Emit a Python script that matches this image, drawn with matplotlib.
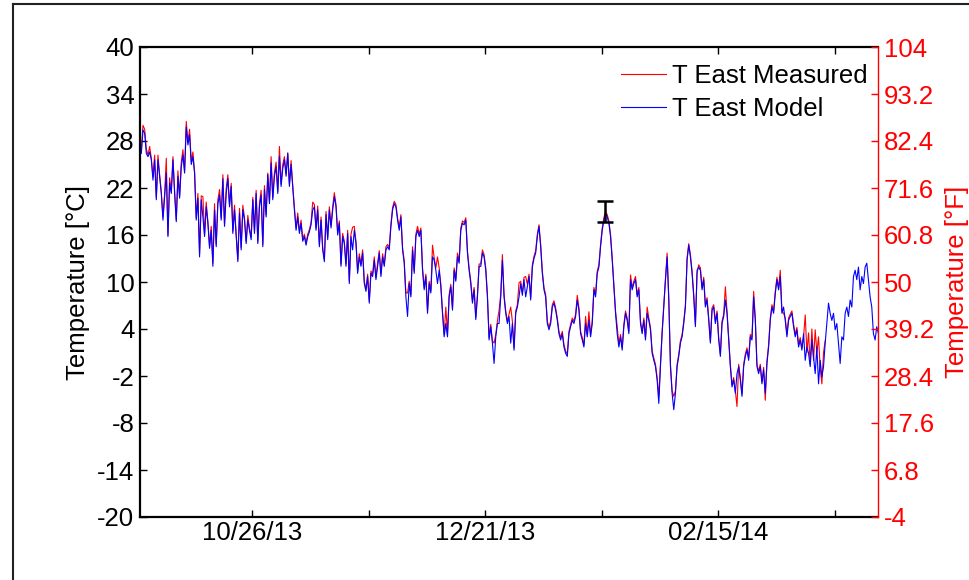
import numpy as np
import pandas as pd
import matplotlib
matplotlib.use("Agg")
import matplotlib.pyplot as plt
import matplotlib.dates as mdates
from matplotlib.lines import Line2D

plt.rcParams['font.family'] = ['Liberation Sans', 'DejaVu Sans']
plt.rcParams['axes.unicode_minus'] = False

# ---------------- data ----------------
series_start = "2013-09-28 12:29"     # first sample
sample_step_min = 576                 # logging interval (minutes)

t_model = [
    23.5, 27.3, 26.4, 29.4, 29.0, 26.4, 26.0, 26.6, 25.6, 23.0,
    25.6, 20.5, 25.6, 23.5, 21.3, 17.9, 20.9, 23.9, 15.8, 22.6,
    21.3, 25.6, 21.3, 17.7, 23.5, 20.7, 24.7, 26.2, 23.9, 29.8,
    27.5, 28.8, 25.0, 26.0, 23.9, 17.9, 20.7, 13.2, 20.5, 18.3,
    15.8, 19.6, 17.5, 14.3, 16.6, 12.0, 19.2, 14.5, 20.0, 21.1,
    17.9, 23.2, 17.1, 21.3, 23.2, 19.6, 22.2, 16.2, 19.2, 15.8,
    12.6, 18.8, 14.1, 19.2, 17.9, 14.9, 17.9, 16.6, 15.4, 20.5,
    16.2, 21.3, 14.9, 19.6, 21.1, 14.5, 21.8, 18.3, 23.7, 20.0,
    25.2, 20.5, 23.5, 24.7, 21.3, 26.0, 22.2, 24.5, 25.6, 23.5,
    26.4, 22.2, 25.0, 22.0, 19.2, 16.6, 18.3, 16.2, 17.5, 15.2,
    15.8, 14.7, 15.8, 16.4, 17.3, 19.2, 19.6, 16.6, 19.2, 14.5,
    17.9, 14.1, 12.6, 18.6, 15.4, 19.2, 16.9, 19.2, 20.9, 19.6,
    16.0, 17.5, 12.0, 15.8, 14.9, 12.0, 16.2, 9.8, 15.8, 14.1,
    16.6, 14.9, 11.1, 13.2, 12.0, 13.7, 9.8, 8.8, 10.7, 7.3,
    11.1, 10.7, 12.8, 10.3, 12.0, 13.7, 10.7, 13.2, 12.0, 14.1,
    14.5, 14.1, 17.1, 19.2, 20.0, 19.6, 17.9, 16.6, 18.3, 14.1,
    12.4, 8.1, 5.6, 9.8, 8.1, 14.1, 11.1, 15.8, 16.6, 15.8,
    16.6, 11.5, 9.0, 10.7, 6.0, 9.8, 8.6, 13.2, 12.8, 11.5,
    9.8, 11.5, 9.4, 6.0, 3.0, 4.7, 3.0, 8.1, 9.4, 6.4,
    11.5, 10.1, 13.2, 12.4, 16.6, 17.5, 17.3, 17.9, 13.7, 11.5,
    9.8, 7.3, 9.0, 5.2, 8.1, 12.0, 12.0, 13.7, 13.2, 11.5,
    8.1, 2.6, 4.3, 2.2, -0.4, 3.0, 4.7, 4.7, 8.1, 12.8,
    8.1, 6.0, 4.7, 5.6, 2.2,
    4.7, 1.3, 6.0, 6.8, 8.1, 9.8, 8.3, 10.3, 8.1, 9.4,
    10.7, 7.7, 11.9, 13.0, 13.7, 15.8, 17.1, 14.5, 11.1, 9.0,
    8.1, 4.7, 3.9, 4.7, 6.8, 7.3, 6.4, 5.1, 3.4, 2.6,
    3.4, 1.7, 0.9, 0.5, 3.4, 4.3, 5.1, 4.7, 5.6, 7.7,
    6.4, 3.4, 2.6, 1.7, 4.7, 3.0, 5.1, 3.0, 4.7, 9.0,
    8.1, 11.1, 11.9, 14.5, 16.6, 17.9, 18.8, 18.3, 17.5, 15.8,
    12.8, 9.4, 6.0, 3.4, 1.7, 3.0, 1.3, 4.3, 6.0, 5.1,
    3.4, 10.3, 9.0, 9.8, 10.3, 8.1, 9.0, 4.7, 3.4, 5.1,
    2.6, 6.0, 5.1, 3.9, 0.9, 0.0, -0.8, -2.5, -5.5, -0.8,
    3.4, 6.8, 10.3, 13.2, 7.7, -0.8, -4.2, -6.3, -4.2, -0.8,
    0.5, 2.2, 3.0, 4.7, 6.8, 12.8, 14.7, 13.2, 11.1, 8.1,
    4.3, 11.5, 11.9, 11.5, 9.0, 10.3, 6.8, 7.7, 5.1, 2.2,
    6.4, 6.8, 4.7, 6.0, 2.6, 0.5, 4.7, 5.6, 7.7, 6.0,
    2.6, -0.8, -3.4, -2.5, -4.2, -1.7, -0.8, -2.5, -4.6, -0.8,
    0.5, 1.3, 0.0, 3.0, 2.6, 8.1, 5.1, -0.8, -1.7, -0.8,
    -3.0, -1.2, -4.2, -0.4, 1.7, 5.1, 6.8, 6.0, 8.5, 10.3,
    9.0, 10.7, 6.0, 6.8, 5.1, 3.0, 5.1, 5.6, 6.0, 4.3,
    3.0, 3.9, 1.7, 2.6, 1.3, 3.4, 0.0, 1.7, 0.9, -0.8,
    2.6, 0.5, -1.7, 1.7, -3.0, 0.0, -2.1, -0.8, 2.2, 4.7,
    7.3, 6.0, 5.1, 6.0, 3.9, 4.7, 2.2, -0.4, 3.0, 2.6,
    6.0, 6.8, 5.6, 7.7, 6.8, 10.7, 11.5, 10.3, 11.9, 9.0,
    10.7, 9.8, 11.9, 12.4, 10.3, 8.1, 6.8, 3.4, 2.6, 4.3,
    3.4,
]

t_measured = [
    25.6, 28.1, 26.9, 30.0, 29.5, 27.0, 26.2, 27.3, 25.8, 23.4,
    26.2, 20.8, 26.2, 23.7, 21.5, 18.3, 21.3, 25.8, 16.0, 23.3,
    21.6, 26.0, 21.6, 17.9, 24.2, 21.0, 25.3, 26.9, 24.2, 30.5,
    27.8, 29.5, 25.4, 26.6, 24.1, 18.2, 21.3, 13.6, 21.0, 20.9,
    16.1, 20.2, 17.7, 14.6, 17.1, 12.4, 20.0, 14.8, 20.5, 21.8,
    18.2, 23.7, 17.4, 21.9, 23.7, 19.9, 22.6, 16.5, 19.8, 16.1,
    12.9, 19.4, 14.4, 19.8, 18.2, 15.2, 18.5, 16.9, 15.7, 20.8,
    16.5, 21.7, 15.2, 20.1, 21.7, 14.8, 22.3, 18.6, 23.9, 20.3,
    26.0, 20.8, 24.0, 25.3, 21.6, 27.3, 22.5, 25.0, 26.0, 23.8,
    26.5, 22.5, 25.5, 22.3, 19.5, 16.9, 18.8, 16.5, 17.9, 15.5,
    16.1, 15.0, 16.1, 16.7, 17.6, 20.2, 19.9, 16.9, 19.7, 14.8,
    18.3, 14.4, 12.9, 19.0, 15.7, 19.6, 17.2, 19.6, 21.4, 19.9,
    16.3, 17.8, 12.3, 16.2, 15.2, 12.3, 16.6, 10.1, 16.1, 17.0,
    17.1, 15.2, 11.4, 13.6, 12.3, 14.1, 10.1, 9.1, 11.0, 7.6,
    11.4, 11.0, 13.2, 10.6, 12.4, 14.0, 11.0, 13.6, 12.3, 14.5,
    14.8, 14.4, 17.4, 19.5, 20.3, 19.9, 18.2, 16.9, 18.6, 14.4,
    12.7, 8.6, 8.6, 10.1, 8.4, 14.5, 11.4, 16.1, 17.1, 16.1,
    16.9, 11.8, 9.3, 11.0, 6.3, 10.1, 8.9, 14.7, 13.1, 11.8,
    13.2, 11.8, 9.7, 6.3, 3.3, 6.8, 3.3, 8.4, 9.7, 6.7,
    11.8, 10.4, 13.7, 12.7, 16.9, 17.8, 17.6, 18.2, 14.0, 11.8,
    10.1, 7.6, 9.3, 5.5, 8.4, 12.3, 12.3, 14.1, 13.5, 11.8,
    8.4, 2.9, 4.6, 2.5, 2.2, 3.3, 5.0, 6.4, 8.4, 13.5,
    8.4, 6.3, 5.0, 5.9, 6.8,
    5.0, 1.6, 6.3, 7.1, 9.9, 10.1, 8.6, 10.6, 10.7, 9.7,
    11.0, 8.0, 12.2, 13.3, 14.0, 16.1, 17.3, 14.8, 11.4, 9.3,
    8.4, 5.0, 4.2, 5.0, 7.1, 7.6, 6.7, 5.4, 3.7, 2.9,
    3.7, 2.0, 1.2, 0.8, 3.7, 4.6, 5.4, 5.0, 5.9, 8.3,
    6.7, 3.7, 2.9, 2.0, 5.6, 3.3, 6.2, 3.3, 5.0, 9.3,
    8.4, 11.4, 12.2, 14.8, 16.9, 18.2, 19.0, 18.6, 17.8, 16.1,
    13.1, 9.7, 6.3, 4.3, 2.0, 3.3, 1.6, 4.6, 6.3, 5.4,
    3.7, 10.9, 9.3, 10.1, 10.7, 8.4, 9.3, 5.0, 3.7, 5.4,
    2.9, 6.8, 5.4, 4.2, 1.2, 0.3, -0.5, -2.2, -4.6, -0.5,
    3.7, 7.1, 10.6, 13.7, 8.0, -0.5, -3.9, -4.6, -3.9, -0.5,
    0.8, 2.5, 3.3, 5.0, 7.1, 13.1, 14.9, 13.5, 11.4, 8.4,
    4.6, 11.1, 12.2, 11.8, 9.3, 10.6, 7.1, 8.0, 5.4, 2.5,
    6.7, 7.1, 5.0, 6.3, 2.9, 0.8, 5.0, 5.9, 9.4, 6.3,
    2.9, -0.5, -3.1, -2.2, -3.9, -5.9, -0.5, -2.2, -4.3, -0.5,
    0.8, 1.6, 0.3, 3.3, 2.9, 8.8, 5.4, -0.5, -1.4, -0.5,
    -2.7, -0.9, -5.1, -0.1, 2.0, 5.4, 7.1, 6.3, 8.8, 10.6,
    9.3, 11.5, 6.3, 6.0, 5.4, 3.3, 5.4, 5.9, 6.3, 4.6,
    3.3, 4.2, 2.0, 2.9, 1.6, 3.0, 5.8, 1.0, 3.5, -0.5,
    4.0, 0.0, 3.9, 1.0, 3.0, -1.0, -3.0, 1.0, 2.5,
]

# single uncertainty marker
err_date = "2014-01-18 21:00"
err_value = 19.0
err_half = 1.3

# axes
x_range = ["2013-09-29 00:00", "2014-03-25 10:00"]
major_dates = ["2013-10-26", "2013-12-21", "2014-02-15"]
minor_dates = ["2013-11-23", "2014-01-18", "2014-03-15"]
c_ticks = [-20, -14, -8, -2, 4, 10, 16, 22, 28, 34, 40]
f_ticks = [-4, 6.8, 17.6, 28.4, 39.2, 50, 60.8, 71.6, 82.4, 93.2, 104]
f_labels = ["-4", "6.8", "17.6", "28.4", "39.2", "50", "60.8", "71.6", "82.4", "93.2", "104"]

labels = ["T East Measured", "T East Model"]

# ---------------- plot ----------------
W, H = 969, 580
fig = plt.figure(figsize=(W / 100, H / 100), dpi=100)
ax = fig.add_axes([140 / W, 1 - 517 / H, (878 - 140) / W, (517 - 47) / H])

times_model = pd.date_range(series_start, periods=len(t_model), freq=f"{sample_step_min}min")
times_meas = pd.date_range(series_start, periods=len(t_measured), freq=f"{sample_step_min}min")

ax.plot(times_meas, t_measured, color="#ff0000", lw=0.8, label=labels[0])
ax.plot(times_model, t_model, color="#0000ff", lw=0.8, label=labels[1])
ax.errorbar([pd.Timestamp(err_date)], [err_value], yerr=[err_half], fmt="none",
            ecolor="black", elinewidth=1.8, capsize=5.5, capthick=1.8)

ax.set_xlim(pd.Timestamp(x_range[0]), pd.Timestamp(x_range[1]))
ax.set_ylim(-20, 40)
ax.set_yticks(c_ticks)
ax.set_xticks([pd.Timestamp(d) for d in major_dates])
ax.set_xticks([pd.Timestamp(d) for d in minor_dates], minor=True)
ax.xaxis.set_major_formatter(mdates.DateFormatter("%m/%d/%y"))

FS = 18.5
ax.tick_params(axis="both", which="both", direction="in", length=5, width=1,
               labelsize=FS, color="black")
ax.tick_params(axis="x", which="both", top=True, bottom=True, pad=3)
ax.tick_params(axis="y", left=True, right=False, pad=4)
ax.set_ylabel("Temperature [°C]", fontsize=FS, labelpad=5)

for s in ["left", "bottom", "top"]:
    ax.spines[s].set_linewidth(1.6)
ax.spines["right"].set_visible(False)

ax2 = ax.twinx()
ax2.set_ylim(-4, 104)
ax2.set_yticks(f_ticks)
ax2.set_yticklabels(f_labels)
ax2.tick_params(axis="y", direction="in", length=5, width=1, colors="red",
                labelsize=FS, pad=4)
ax2.set_ylabel("Temperature [°F]", color="red", fontsize=FS, labelpad=8)
ax2.spines["right"].set_color("red")
ax2.spines["right"].set_linewidth(1.0)
for s in ["left", "top", "bottom"]:
    ax2.spines[s].set_visible(False)

leg = ax.legend(loc="upper right", bbox_to_anchor=(1.008, 1.0), frameon=False,
                fontsize=FS, handlelength=1.75, handletextpad=0.2,
                labelspacing=0.35, borderaxespad=0.25)
for h in leg.get_lines():
    h.set_linewidth(0.8)

# outer frame of the figure
fig.add_artist(Line2D([13 / W, 13 / W], [0, 1 - 4 / H], transform=fig.transFigure,
                      color="#222222", lw=1.5))
fig.add_artist(Line2D([13 / W, 1], [1 - 4 / H, 1 - 4 / H], transform=fig.transFigure,
                      color="#222222", lw=1.5))

fig.savefig("out.png", dpi=100)
